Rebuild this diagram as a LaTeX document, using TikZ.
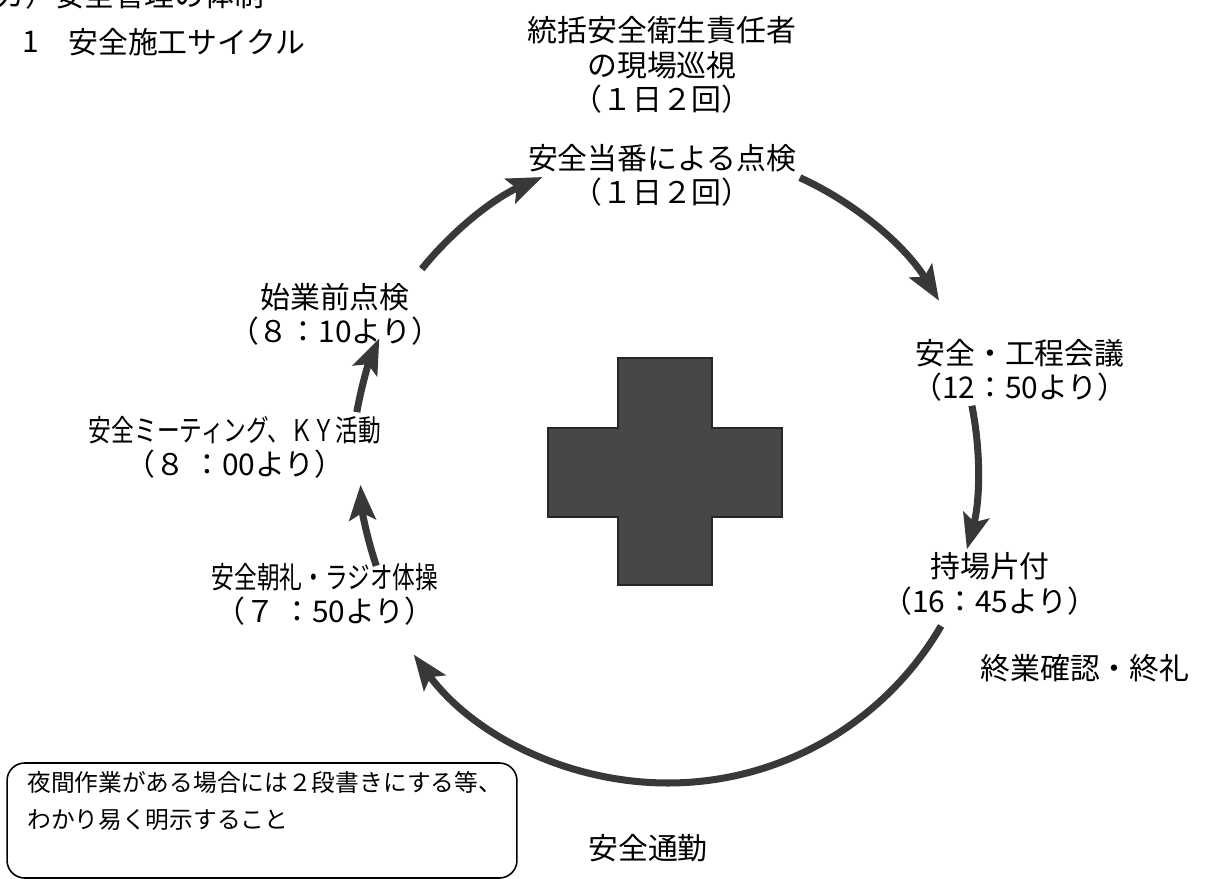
\documentclass[tikz,border=0pt]{standalone}
\usepackage{fontspec}
\newfontfamily\jp{Noto Sans CJK JP}
\newfontfamily\jpcond[FakeStretch=0.76]{Noto Sans CJK JP}
\usetikzlibrary{arrows.meta}
\tikzset{
  lbl/.style={align=center,inner sep=0pt,font=\jp\fontsize{17}{19.5}\selectfont},
  cyc/.style={line width=4pt,draw=black!78,-{Stealth[length=20pt,width=15pt,inset=4pt]}},
  notebox/.style={draw,line width=0.9pt,rounded corners=10pt,minimum width=10.2cm,minimum height=2.3cm},
  notetext/.style={align=left,inner sep=0pt,anchor=west,font=\jp\fontsize{13.5}{21.6}\selectfont},
  crossfill/.style={fill=black!72,draw=black!85,line width=0.6pt}
}
\begin{document}
\begin{tikzpicture}[x=0.02cm,y=-0.02cm]
\path[use as bounding box] (0,0) rectangle (1211,879);
\clip (0,0) rectangle (1211,879);
\coordinate (hub) at (668,467);

\node (head) at (-5,-5)[lbl,anchor=west]{カ）安全管理の体制};
\node (secnum) at (31,42)[lbl]{1};
\node (sectitle) at (68,42)[lbl,anchor=west]{安全施工サイクル};

\node (patrol) at (662,65)[lbl]{統括安全衛生責任者\\の現場巡視\\（１日２回）};
\node (duty) at (662,175)[lbl]{安全当番による点検\\（１日２回）};
\node (council) at (1020,370)[lbl]{安全・工程会議\\（12：50より）};
\node (tidy) at (990,584)[lbl]{持場片付\\（16：45より）};
\node (closing) at (1085,668)[lbl]{終業確認・終礼};
\node (commute) at (648,848)[lbl]{安全通勤};
\node (assembly) at (325,594)[lbl]{{\jpcond 安全朝礼・ラジオ体操}\\（７ ：50より）};
\node (meeting) at (235,447)[lbl]{{\jpcond 安全ミーティング、ＫＹ活動}\\（８ ：00より）};
\node (startchk) at (335,314)[lbl]{始業前点検\\（８：10より）};

\draw[cyc] (hub) ++(-141.2:316) arc[start angle=-141.2,end angle=-113.4,radius=316];
\draw[cyc] (hub) ++(-65.5:318) arc[start angle=-65.5,end angle=-31.5,radius=318];
\draw[cyc] (hub) ++(-11.4:310) arc[start angle=-11.4,end angle=15.4,radius=310];
\draw[cyc] (hub) ++(30.2:316) arc[start angle=30.2,end angle=143.6,radius=316];
\draw[cyc] (hub) ++(161.3:308) arc[start angle=161.3,end angle=176.7,radius=308];
\draw[cyc] (hub) ++(190:316) arc[start angle=190,end angle=204,radius=316];

\filldraw[crossfill] (618,358) -- (712,358) -- (712,428) -- (782,428) -- (782,517) -- (712,517)
  -- (712,585) -- (618,585) -- (618,517) -- (548,517) -- (548,428) -- (618,428) -- cycle;

\node (note) at (262,820.5)[notebox]{};
\node (notetext) at (27,801)[notetext]{夜間作業がある場合には２段書きにする等、\\わかり易く明示すること};
\end{tikzpicture}
\end{document}
